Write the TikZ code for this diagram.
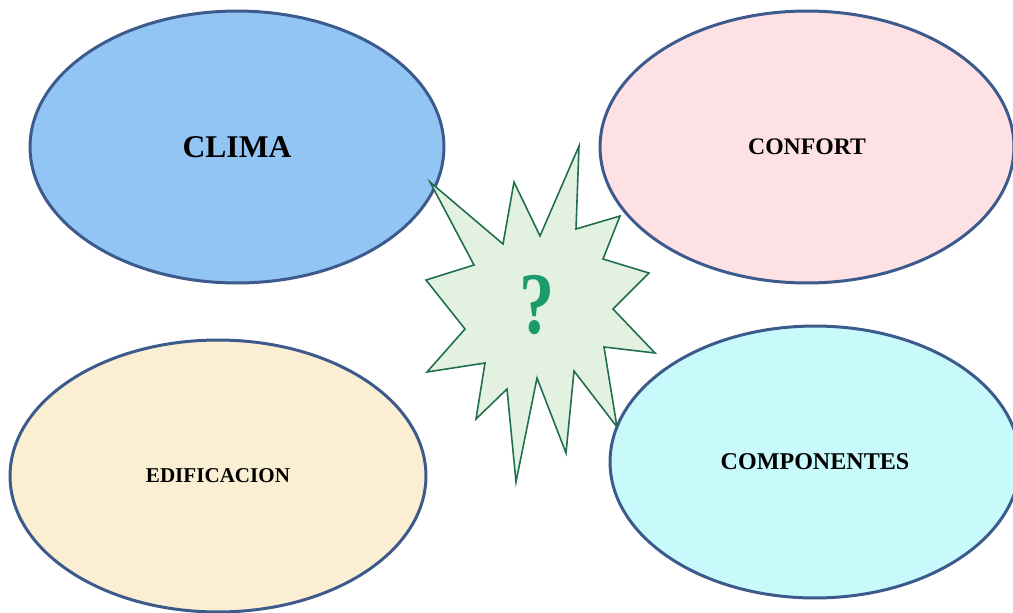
\documentclass[tikz,border=0pt]{standalone}
\usepackage{fontspec}
\setmainfont{Liberation Serif}
\usetikzlibrary{shapes.geometric}

\definecolor{rimblue}{HTML}{3C5A8C}
\definecolor{climafill}{HTML}{92C4F4}
\definecolor{confortfill}{HTML}{FDE1E5}
\definecolor{edifill}{HTML}{FAEED3}
\definecolor{compfill}{HTML}{C8F9FB}
\definecolor{burstrim}{HTML}{1F6E4E}
\definecolor{burstfill}{HTML}{E2F1E0}
\definecolor{qgreen}{HTML}{1A9B6C}

\tikzset{
	topic/.style={ellipse, draw=rimblue, line width=1.7pt,
		minimum width=8.28cm, minimum height=5.44cm,
		inner sep=0pt, font=\bfseries},
}

\begin{document}
\begin{tikzpicture}[x=0.02cm, y=-0.02cm]

		\useasboundingbox (0,0) rectangle (1013,612);

		% ellipses
		\node[topic, fill=climafill, font=\bfseries\fontsize{18}{18}\selectfont]
			(clima) at (237,147) {CLIMA};
		\node[topic, fill=confortfill, font=\bfseries\fontsize{13.5}{13.5}\selectfont]
			(confort) at (807,147) {CONFORT};
		\node[topic, fill=edifill, font=\bfseries\fontsize{12}{12}\selectfont,
			minimum width=8.32cm]
			(edificacion) at (218,476) {EDIFICACION};
		\node[topic, fill=compfill, font=\bfseries\fontsize{13.7}{13.7}\selectfont,
			minimum width=8.2cm]
			(componentes) at (815,462) {COMPONENTES};

		% starburst
		\draw[draw=burstrim, fill=burstfill, line width=0.9pt, line join=miter]
			(430,182) -- (503,244) -- (514,182) -- (540,236) --
			(579,146) -- (576,229) -- (620,216) -- (603,259) --
			(649,273) -- (613,309) -- (655,353) -- (604,347) --
			(617,427) -- (574,371) -- (566,453) -- (537,378) --
			(516,482) -- (507,389) -- (476,419) -- (485,363) --
			(427,372) -- (465,329) -- (426,280) -- (474,265) -- cycle;

		\node[text=qgreen, font=\bfseries\fontsize{40}{40}\selectfont, yscale=1.25]
			(ask) at (537,305) {?};

	\end{tikzpicture}
\end{document}
